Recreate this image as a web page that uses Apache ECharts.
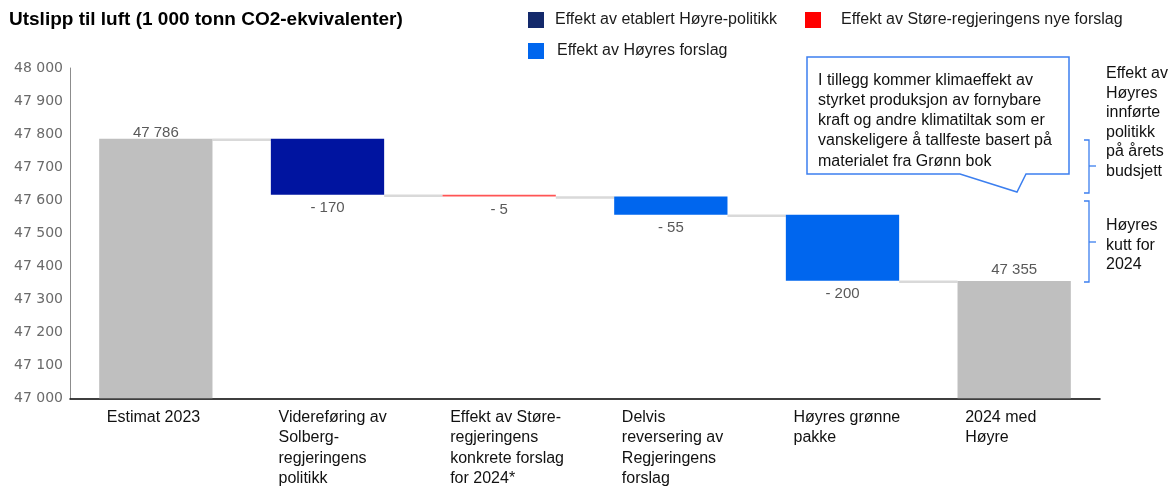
<!DOCTYPE html>
<html>
<head>
<meta charset="utf-8">
<script src="https://cdn.jsdelivr.net/npm/echarts@6/dist/echarts.min.js"></script>
<style>html,body{margin:0;padding:0;background:#fff}#c{width:1168px;height:487px}</style>
</head>
<body>
<div id="c"></div>
<script>
const titleText = 'Utslipp til luft (1 000 tonn CO2-ekvivalenter)';
const categories = ['Estimat 2023', 'Videreføring av\nSolberg-\nregjeringens\npolitikk', 'Effekt av Støre-\nregjeringens\nkonkrete forslag\nfor 2024*', 'Delvis\nreversering av\nRegjeringens\nforslag', 'Høyres grønne\npakke', '2024 med\nHøyre'];
const totals = [47786, null, null, null, null, 47355];
const changes = [null, -170, -5, -55, -200, null];
const changeGroup = [null, 0, 1, 2, 2, null];
const seriesNames = ['Effekt av etablert Høyre-politikk', 'Effekt av Støre-regjeringens nye forslag', 'Effekt av Høyres forslag'];
const yTicks = { min: 47000, max: 48000, step: 100 };
const calloutText = 'I tillegg kommer klimaeffekt av\nstyrket produksjon av fornybare\nkraft og andre klimatiltak som er\nvanskeligere å tallfeste basert på\nmaterialet fra Grønn bok';
const sideNote1 = 'Effekt av\nHøyres\ninnførte\npolitikk\npå årets\nbudsjett';
const sideNote2 = 'Høyres\nkutt for\n2024';

const FONT = '"Liberation Sans", Arial, sans-serif';
const barColors = ['#0014A0', '#FF5555', '#0066EE'];
const legendColors = ['#13296B', '#FF0000', '#0066EE'];
const fmt = v => String(v).replace(/\B(?=(\d{3})+(?!\d))/g, ' ');

// running levels
const levels = [];
let lvl = 0;
for (let i = 0; i < categories.length; i++) {
  if (totals[i] != null) lvl = totals[i]; else lvl += changes[i];
  levels.push(lvl);
}
const baseData = categories.map((c, i) => totals[i] != null ? 0 : levels[i]);
const totalData = totals.map((t, i) => t != null ? {
  value: t,
  label: { distance: i === 0 ? -2 : 4 }
} : '-');
const changeSeries = seriesNames.map((name, g) => ({
  name, type: 'bar', stack: 'w', barWidth: '66%',
  itemStyle: { color: barColors[g] },
  data: changes.map((c, i) => changeGroup[i] === g ? -c : '-'),
  label: {
    show: true, position: 'bottom', distance: 6,
    formatter: p => '- ' + fmt(p.value),
    color: '#595959', fontSize: 15, fontFamily: FONT
  },
  z: 3
}));
const connectorData = levels.slice(0, -1).map((v, i) => [i, v]);

const chart = echarts.init(document.getElementById('c'), null, { renderer: 'canvas' });
const legendBase = (name, g, left, top, pad) => ({
  left, top, padding: 0, itemWidth: 16, itemHeight: 16, icon: 'rect',
  selectedMode: false,
  data: [{ name, itemStyle: { color: legendColors[g] } }],
  textStyle: { fontSize: 16, fontFamily: FONT, color: '#1a1a1a', padding: [0, 0, 0, pad] }
});

chart.setOption({
  animation: false,
  title: { text: titleText, left: 9, top: 10, padding: 0,
    textStyle: { fontSize: 19, fontWeight: 'bold', color: '#000', fontFamily: FONT } },
  legend: [
    legendBase(seriesNames[0], 0, 528, 12, 6),
    legendBase(seriesNames[1], 1, 805, 12, 15),
    legendBase(seriesNames[2], 2, 528, 43, 8)
  ],
  grid: { left: 70, right: 68, top: 68, bottom: 86 },
  xAxis: {
    type: 'category', data: categories,
    axisTick: { show: false },
    axisLine: { lineStyle: { color: '#000', width: 1.5 } },
    axisLabel: {
      interval: 0, margin: 9, align: 'center', width: 114,
      formatter: v => v.split('\n').map(l => '{a|' + l + '}').join('\n'),
      rich: { a: { align: 'left', fontSize: 16, lineHeight: 20.5, fontFamily: FONT, color: '#111', padding: [0, 0, 0, 8] } }
    }
  },
  yAxis: {
    type: 'value', min: yTicks.min, max: yTicks.max, interval: yTicks.step,
    splitLine: { show: false },
    axisLine: { show: true, lineStyle: { color: '#8c8c8c', width: 1 } },
    axisTick: { show: false },
    axisLabel: { formatter: v => fmt(v), color: '#6a6a6a', fontSize: 14, fontFamily: '"DejaVu Sans", sans-serif', margin: 7 }
  },
  series: [
    { name: 'base', type: 'bar', stack: 'w', barWidth: '66%', silent: true,
      itemStyle: { color: 'transparent' }, data: baseData },
    { name: 'Total', type: 'bar', stack: 'w', barWidth: '66%',
      itemStyle: { color: '#BFBFBF' }, data: totalData,
      label: { show: true, position: 'top', formatter: p => fmt(p.value),
        color: '#595959', fontSize: 15, fontFamily: FONT }, z: 3 },
    ...changeSeries,
    { name: 'conn', type: 'custom', z: 1, silent: true,
      data: connectorData,
      encode: { x: 0, y: 1 },
      renderItem: (params, api) => {
        const p = api.coord([api.value(0), api.value(1)]);
        const w = api.size([1, 0])[0];
        const half = w * 0.33;
        return { type: 'line', shape: { x1: p[0] + half, y1: p[1] + 1, x2: p[0] + w - half, y2: p[1] + 1 },
          style: { stroke: '#D9D9D9', lineWidth: 2.5 } };
      }
    }
  ],
  graphic: [
    { type: 'polygon', z: 10,
      shape: { points: [[807,57],[1069,57],[1069,174],[1026,174],[1017,192],[960,174],[807,174]] },
      style: { fill: '#fff', stroke: '#3C7FEF', lineWidth: 1.5 } },
    { type: 'text', z: 11, left: 818, top: 70,
      style: { text: calloutText, font: '16px ' + FONT, lineHeight: 20.3, fill: '#111' } },
    { type: 'polyline', z: 10,
      shape: { points: [[1084,140],[1089,140],[1089,193],[1084,193]] },
      style: { stroke: '#3C7FEF', lineWidth: 1.3, fill: null } },
    { type: 'line', z: 10, shape: { x1: 1089, y1: 166, x2: 1096, y2: 166 },
      style: { stroke: '#3C7FEF', lineWidth: 1.3 } },
    { type: 'polyline', z: 10,
      shape: { points: [[1084,201],[1089,201],[1089,282],[1084,282]] },
      style: { stroke: '#3C7FEF', lineWidth: 1.3, fill: null } },
    { type: 'line', z: 10, shape: { x1: 1089, y1: 242, x2: 1096, y2: 242 },
      style: { stroke: '#3C7FEF', lineWidth: 1.3 } },
    { type: 'text', z: 11, left: 1106, top: 64,
      style: { text: sideNote1, font: '16px ' + FONT, lineHeight: 19.5, fill: '#111' } },
    { type: 'text', z: 11, left: 1106, top: 216,
      style: { text: sideNote2, font: '16px ' + FONT, lineHeight: 19.5, fill: '#111' } }
  ]
});
</script>
</body>
</html>
